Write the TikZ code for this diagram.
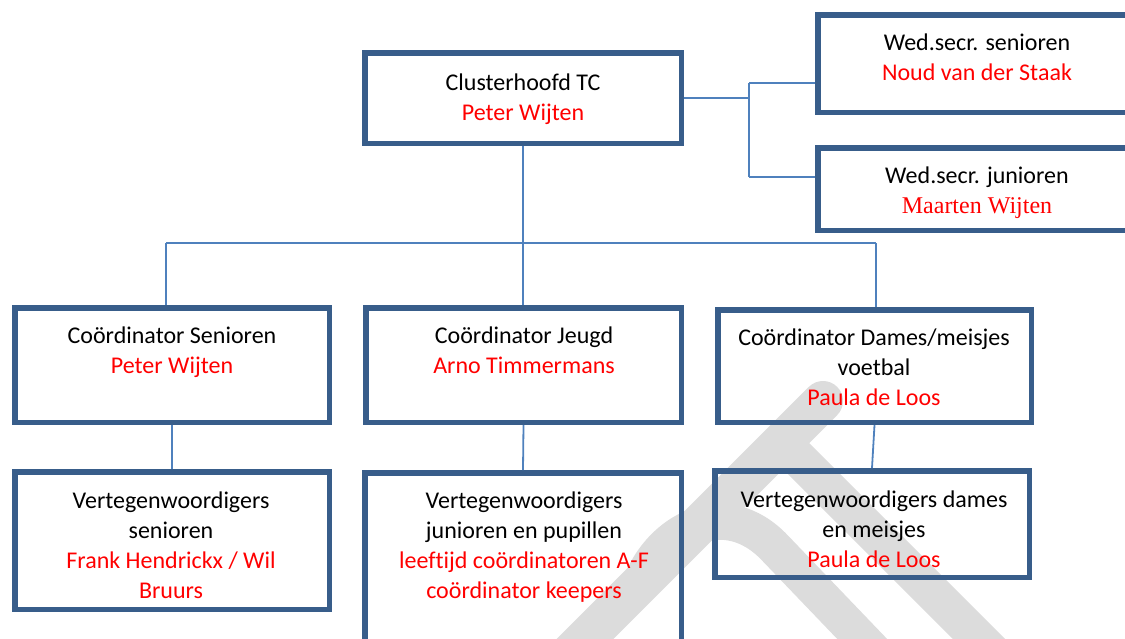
\documentclass[tikz,border=0pt]{standalone}
\usepackage{fontspec}
\setmainfont{Carlito}[Ligatures=NoCommon]
\newfontfamily\tnrfont{Liberation Serif}
\definecolor{bordr}{RGB}{56,93,138}
\definecolor{connc}{RGB}{79,129,189}
\definecolor{wmark}{RGB}{220,220,220}
\definecolor{redtx}{RGB}{255,0,0}
\begin{document}
\begin{tikzpicture}[x=0.5pt,y=-0.5pt,
  box/.style={draw=bordr,line width=2.75pt,inner sep=0pt,rectangle},
  txt/.style={anchor=north,align=center,inner sep=0pt,font=\fontsize{12}{15}\selectfont},
  conn/.style={draw=connc,line width=0.9pt},
  wm/.style={draw=wmark,line width=#1},
  wm/.default=20pt]
\useasboundingbox (0,0) rectangle (1125,638);
\begin{scope}
\clip (0,0) rectangle (1125,638);
% watermark fragments
\draw[wm=20pt,line cap=round] (823,401) -- (523,701);
\draw[wm=18.5pt] (782,442) -- (1050,710);
\draw[wm=18pt] (640,585) .. controls (660,530) and (725,495) .. (775,548) -- (890,668);

% boxes
\node[box,minimum width=158.25pt,minimum height=45.25pt] (ch) at (523,98) {};
\node[box,minimum width=159.25pt,minimum height=48.75pt] (ws) at (977,63.5) {};
\node[box,minimum width=159.25pt,minimum height=41.25pt] (wj) at (977,189) {};
\node[box,minimum width=157.25pt,minimum height=57.25pt] (cs) at (172,365) {};
\node[box,minimum width=157.75pt,minimum height=57.25pt] (cj) at (523.5,365) {};
\node[box,minimum width=156.75pt,minimum height=56.25pt] (cd) at (874.5,366) {};
\node[box,minimum width=157.25pt,minimum height=68.75pt] (vs) at (172,540.5) {};
\node[box,minimum width=158.25pt,minimum height=102.25pt] (vj) at (523,575) {};
\node[box,minimum width=157.25pt,minimum height=53.25pt] (vd) at (872,524) {};

% connectors
\coordinate (ja) at (749,83);
\coordinate (jb) at (749,177);
\draw[conn] (ch.east) -- (ch.east -| ja);
\draw[conn] (ja) -- (jb);
\draw[conn] (ja) -- (ja -| ws.west);
\draw[conn] (jb) -- (jb -| wj.west);
\draw[conn] (ch.south) -- (ch.south |- cj.north);
\coordinate (bl) at (166,243);
\coordinate (br) at (876,243);
\draw[conn] (bl) -- (br);
\draw[conn] (bl) -- (bl |- cs.north);
\draw[conn] (br) -- (br |- cd.north);
\draw[conn] (cs.south) -- (vs.north);
\draw[conn] (cj.south) -- (vj.north);
\draw[conn] (cd.south) -- (vd.north);

% texts
\node[txt] (tch) at (523,69) {\strut Clusterhoofd TC\\\textcolor{redtx}{Peter Wijten}};
\node[txt] (tws) at (977,29) {\strut Wed.secr. senioren\\\textcolor{redtx}{Noud van der Staak}};
\node[txt] (twj) at (977,162) {\strut Wed.secr. junioren\\\textcolor{redtx}{\tnrfont Maarten Wijten}};
\node[txt] (tcs) at (172,322) {\strut Coördinator Senioren\\\textcolor{redtx}{Peter Wijten}};
\node[txt] (tcj) at (524,322) {\strut Coördinator Jeugd\\\textcolor{redtx}{Arno Timmermans}};
\node[txt] (tcd) at (874,324) {\strut Coördinator Dames/meisjes\\voetbal\\\textcolor{redtx}{Paula de Loos}};
\node[txt] (tvs) at (171,487) {\strut Vertegenwoordigers\\senioren\\\textcolor{redtx}{Frank Hendrickx / Wil}\\\textcolor{redtx}{Bruurs}};
\node[txt] (tvj) at (524,487) {\strut Vertegenwoordigers\\junioren en pupillen\\\textcolor{redtx}{leeftijd coördinatoren A-F}\\\textcolor{redtx}{coördinator keepers}};
\node[txt] (tvd) at (874,486) {\strut Vertegenwoordigers dames\\en meisjes\\\textcolor{redtx}{Paula de Loos}};
\end{scope}
\end{tikzpicture}
\end{document}
